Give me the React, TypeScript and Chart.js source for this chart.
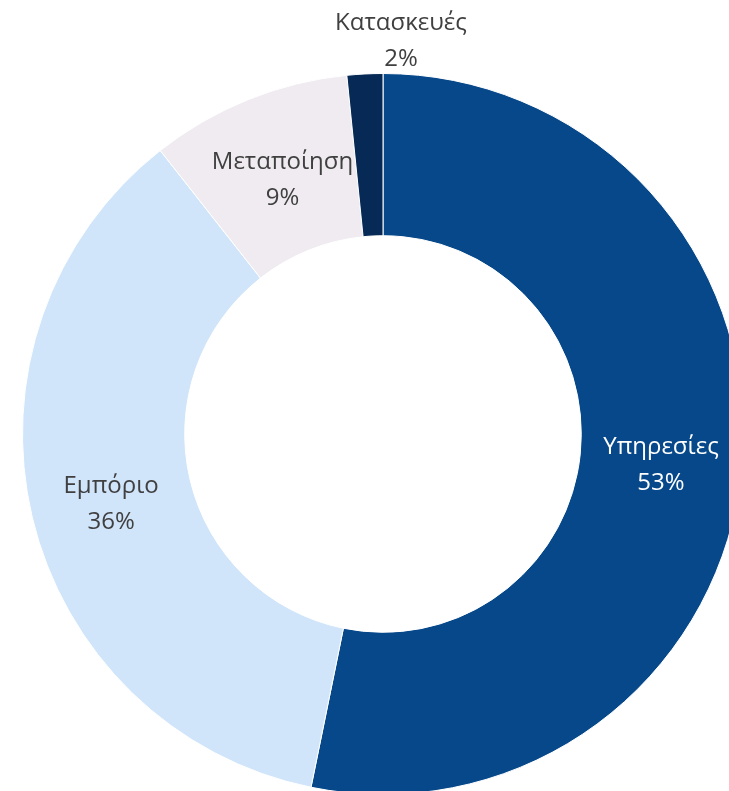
import React, { useEffect, useRef } from "react";
import { Chart, registerables } from "chart.js";

Chart.register(...registerables);

const categories = ["Υπηρεσίες", "Εμπόριο", "Μεταποίηση", "Κατασκευές"];
const values = [53.2, 36.2, 9.0, 1.6];
const percentLabels = ["53%", "36%", "9%", "2%"];
const colors = ["#064889", "#D0E4FA", "#EFEBF0", "#062A55"];
const textColors = ["#FFFFFF", "#404040", "#404040", "#404040"];

const FONT = "24px 'Open Sans', 'Noto Sans', sans-serif";

const labelPlugin = {
  id: "sliceLabels",
  afterDatasetsDraw(chart: any) {
    const ctx = chart.ctx;
    const meta = chart.getDatasetMeta(0);
    ctx.save();
    ctx.font = FONT;
    ctx.textAlign = "center";
    ctx.textBaseline = "middle";
    meta.data.forEach((arc: any, i: number) => {
      const p = arc.getProps(["x", "y", "startAngle", "endAngle", "innerRadius", "outerRadius"], true);
      const mid = (p.startAngle + p.endAngle) / 2;
      let lx: number, ly: number;
      if (i === 3) {
        lx = p.x + 18;
        ly = p.y - p.outerRadius - 32;
      } else {
        const r = (p.innerRadius + p.outerRadius) / 2;
        lx = p.x + Math.cos(mid) * r;
        ly = p.y + Math.sin(mid) * r + 3;
        if (i === 1) ly += 3;
        if (i === 2) {
          lx += 4;
          ly += 2;
        }
      }
      ctx.fillStyle = textColors[i];
      ctx.fillText(categories[i], lx, ly - 18);
      ctx.fillText(percentLabels[i], lx, ly + 18);
    });
    ctx.restore();
  },
};

export default function App() {
  const ref = useRef<HTMLCanvasElement | null>(null);
  useEffect(() => {
    if (!ref.current) return;
    const chart = new Chart(ref.current, {
      type: "doughnut",
      data: {
        labels: categories,
        datasets: [
          {
            data: values,
            backgroundColor: colors,
            borderColor: "#FFFFFF",
            borderWidth: 1,
          },
        ],
      },
      options: {
        responsive: false,
        animation: false,
        cutout: "55%",
        layout: { padding: { left: 22, top: 73, right: 22, bottom: 73 } },
        plugins: {
          legend: { display: false },
          tooltip: { enabled: false },
        },
      },
      plugins: [labelPlugin],
    });
    return () => chart.destroy();
  }, []);
  return (
    <div
      style={{
        position: "fixed",
        left: 0,
        top: 0,
        width: 729,
        height: 791,
        overflow: "hidden",
        background: "#FFFFFF",
      }}
    >
      <canvas ref={ref} width={766} height={868} style={{ display: "block" }} />
    </div>
  );
}
